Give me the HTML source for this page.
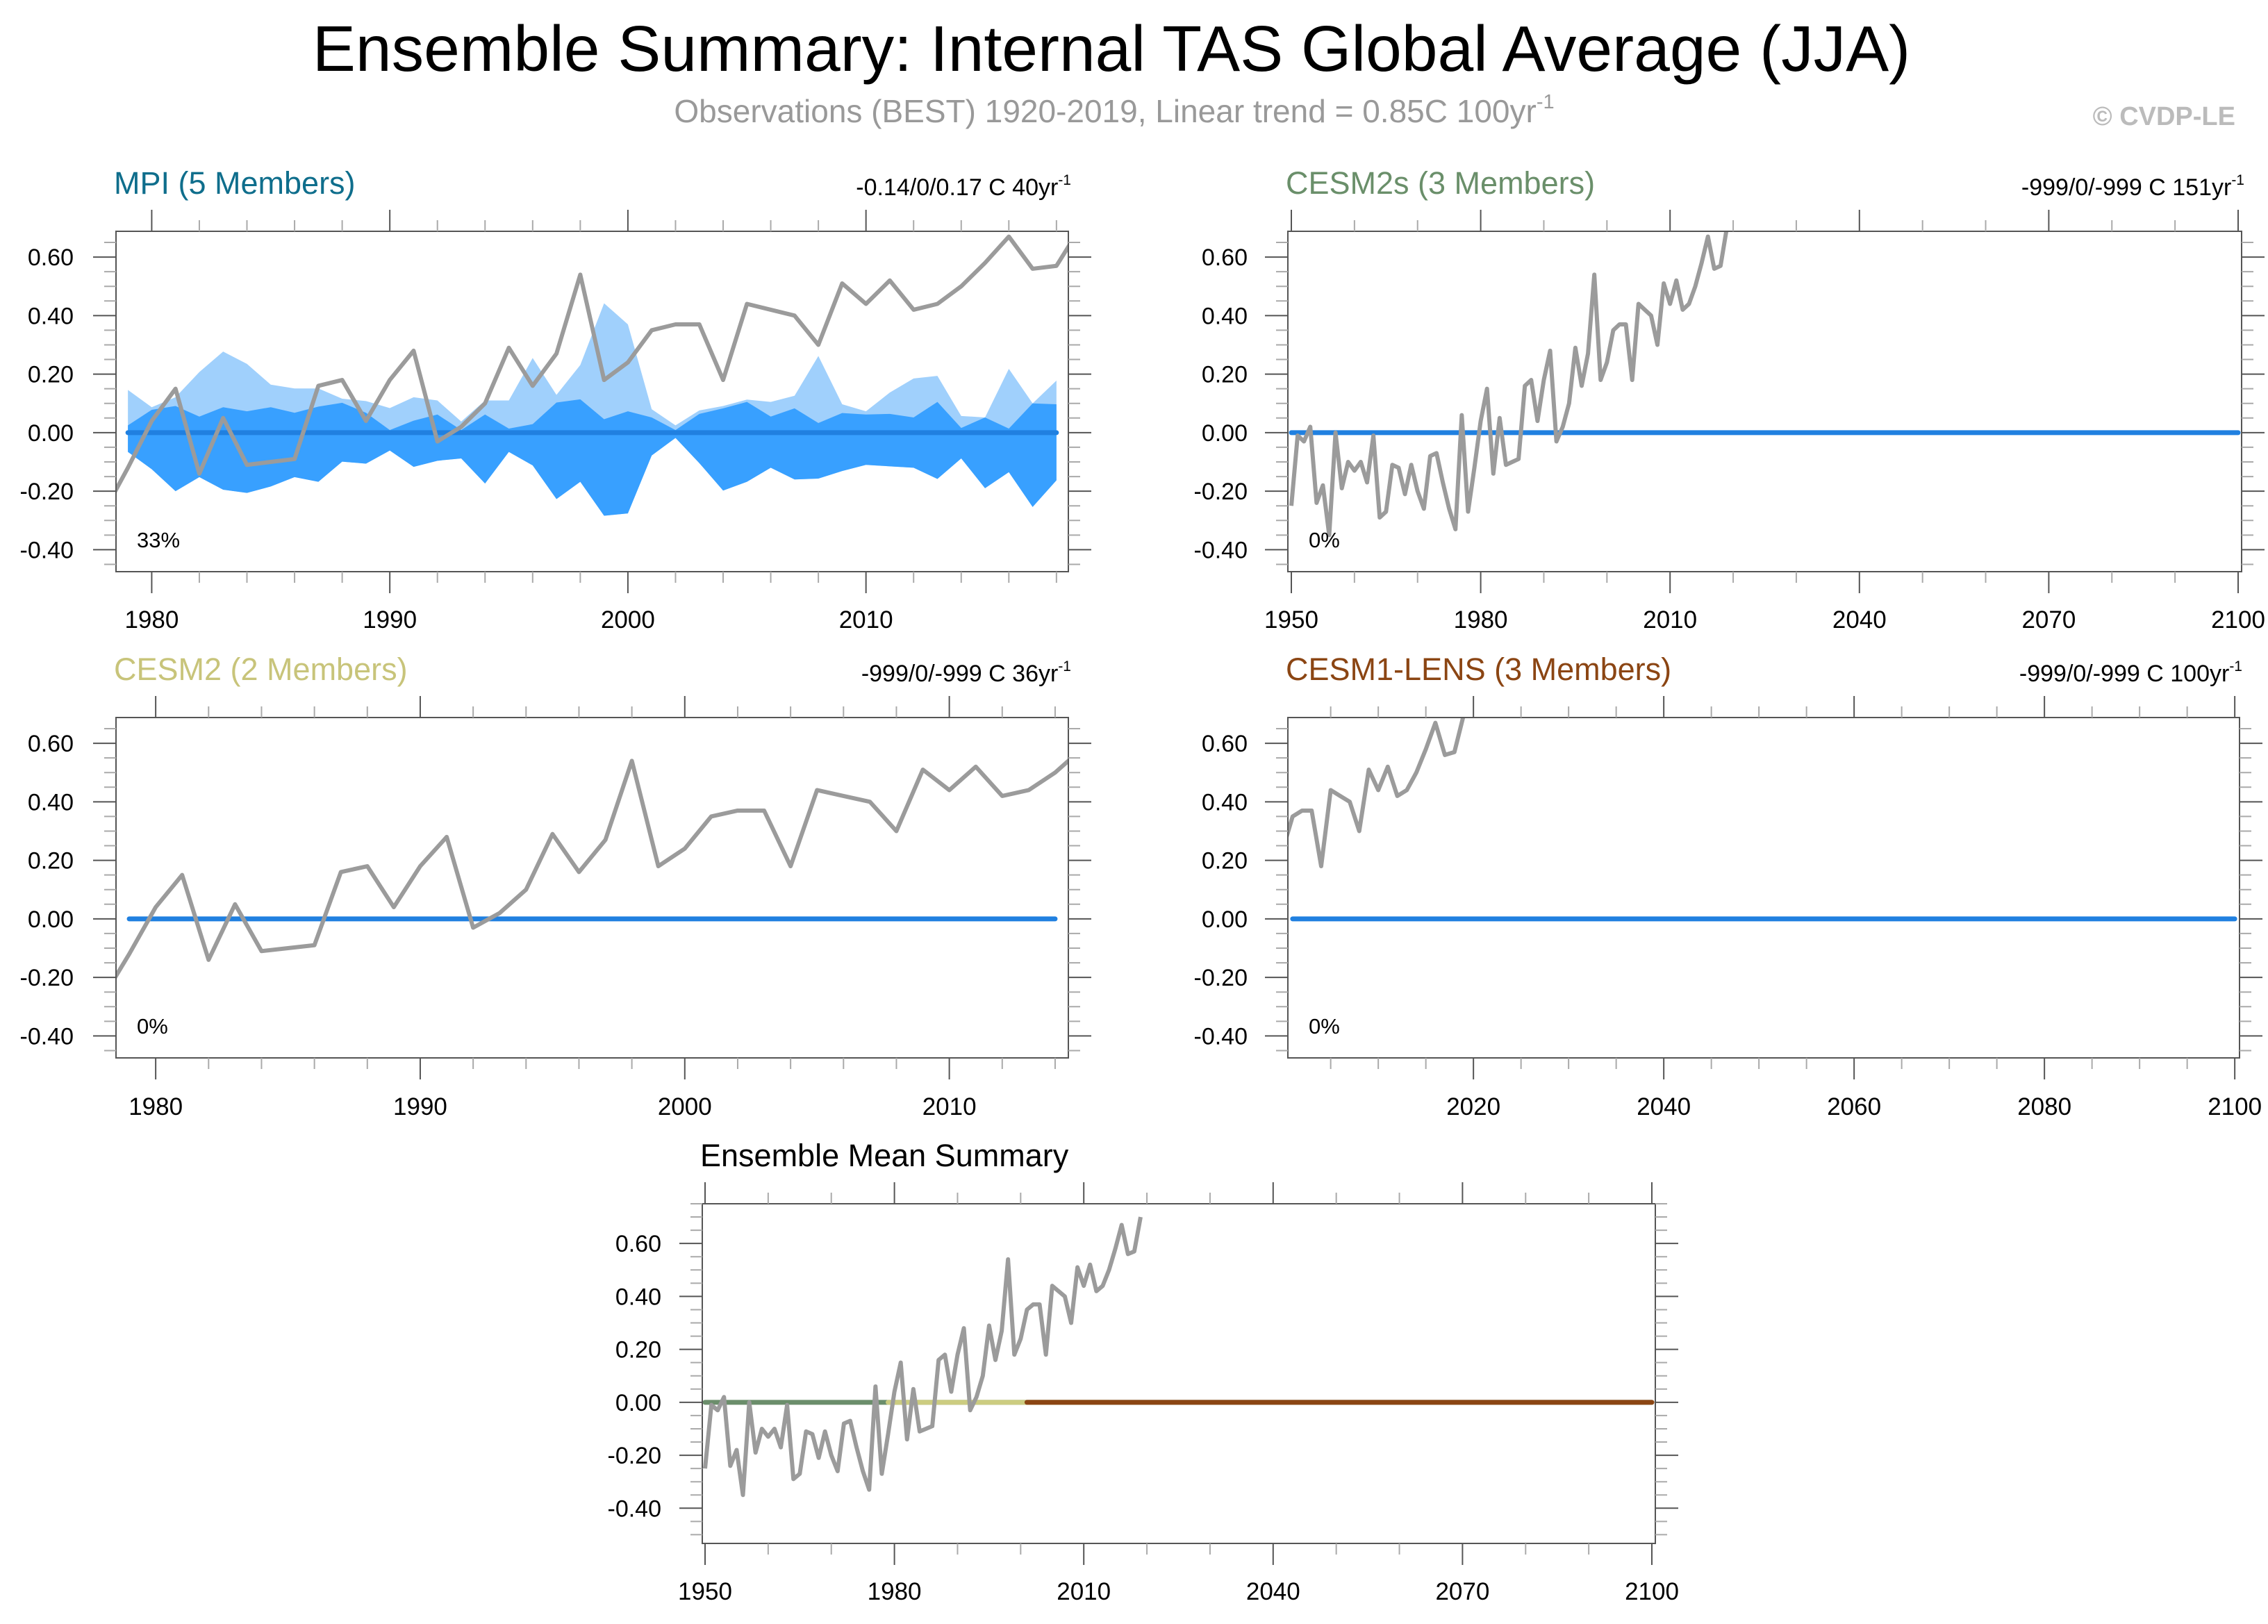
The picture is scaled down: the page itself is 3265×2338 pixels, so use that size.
<!DOCTYPE html>
<html><head><meta charset="utf-8"><title>Ensemble Summary</title>
<style>
html,body{margin:0;padding:0;background:#fff;}
svg{display:block;font-family:"Liberation Sans",Arial,sans-serif;}
</style></head>
<body>
<svg id="fig" xmlns="http://www.w3.org/2000/svg" width="3265" height="2338" viewBox="0 0 3265 2338">
<rect width="3265" height="2338" fill="#fff"/>
<text x="1600" y="102" font-size="93" text-anchor="middle" fill="#000">Ensemble Summary: Internal TAS Global Average (JJA)</text>
<text x="1604" y="176" font-size="46" text-anchor="middle" fill="#999">Observations (BEST) 1920-2019, Linear trend = 0.85C 100yr<tspan font-size="29" dy="-20">-1</tspan></text>
<text x="3218" y="180" font-size="38" font-weight="bold" text-anchor="end" fill="#bbb">© CVDP-LE</text>
<g id="plots"></g>
</svg>
<script>
// Observations (BEST JJA anomaly) 1950-2019
const obsYears = [1950,1951,1952,1953,1954,1955,1956,1957,1958,1959,1960,1961,1962,1963,1964,1965,1966,1967,1968,1969,1970,1971,1972,1973,1974,1975,1976,1977,1978,1979,1980,1981,1982,1983,1984,1985,1986,1987,1988,1989,1990,1991,1992,1993,1994,1995,1996,1997,1998,1999,2000,2001,2002,2003,2004,2005,2006,2007,2008,2009,2010,2011,2012,2013,2014,2015,2016,2017,2018,2019];
const obsValues = [-0.25,-0.01,-0.03,0.02,-0.24,-0.18,-0.35,0.00,-0.19,-0.10,-0.13,-0.10,-0.17,-0.01,-0.29,-0.27,-0.11,-0.12,-0.21,-0.11,-0.20,-0.26,-0.08,-0.07,-0.17,-0.26,-0.33,0.06,-0.27,-0.12,0.04,0.15,-0.14,0.05,-0.11,-0.10,-0.09,0.16,0.18,0.04,0.18,0.28,-0.03,0.02,0.10,0.29,0.16,0.27,0.54,0.18,0.24,0.35,0.37,0.37,0.18,0.44,0.42,0.40,0.30,0.51,0.44,0.52,0.42,0.44,0.50,0.58,0.67,0.56,0.57,0.70];
// MPI envelope 1979-2018
const mpiYears = [1979,1980,1981,1982,1983,1984,1985,1986,1987,1988,1989,1990,1991,1992,1993,1994,1995,1996,1997,1998,1999,2000,2001,2002,2003,2004,2005,2006,2007,2008,2009,2010,2011,2012,2013,2014,2015,2016,2017,2018];
const mpiMax = [0.146,0.087,0.121,0.207,0.277,0.235,0.164,0.151,0.151,0.116,0.108,0.084,0.121,0.110,0.038,0.110,0.110,0.255,0.129,0.231,0.442,0.370,0.080,0.025,0.076,0.091,0.113,0.105,0.126,0.262,0.097,0.073,0.137,0.185,0.194,0.057,0.052,0.218,0.100,0.178];
const mpiUpper = [0.025,0.078,0.091,0.055,0.087,0.073,0.087,0.068,0.089,0.102,0.068,0.009,0.041,0.062,0.009,0.062,0.014,0.029,0.103,0.114,0.046,0.073,0.052,0.009,0.064,0.083,0.105,0.055,0.083,0.033,0.067,0.062,0.064,0.052,0.105,0.016,0.052,0.014,0.100,0.097];
const mpiMin = [-0.066,-0.125,-0.200,-0.152,-0.195,-0.206,-0.184,-0.152,-0.168,-0.099,-0.106,-0.061,-0.117,-0.096,-0.088,-0.174,-0.066,-0.112,-0.227,-0.168,-0.284,-0.276,-0.078,-0.018,-0.104,-0.198,-0.168,-0.120,-0.160,-0.157,-0.131,-0.110,-0.115,-0.120,-0.158,-0.088,-0.190,-0.135,-0.254,-0.163];
const yTickValues = [-0.4,-0.2,0,0.2,0.4,0.6];
const yTickLabels = ["-0.40","-0.20","0.00","0.20","0.40","0.60"];
const ensMeanValue = [0,0];

const NS="http://www.w3.org/2000/svg";
const root=document.getElementById('plots');
function mk(tag,attrs,parent){const e=document.createElementNS(NS,tag);for(const k in attrs)e.setAttribute(k,attrs[k]);(parent||root).appendChild(e);return e;}

const panels=[
 {id:'mpi',title:'MPI (5 Members)',tcol:'#0f6e8c',trend:'-0.14/0/0.17 C 40yr',pct:'33%',x0:167,x1:1538,y0:333,y1:823,xmin:1978.5,xmax:2018.5,ymin:-0.475,ymax:0.688,maj:[1980,2010,10],minStep:2,mean:[[1979,2018,'#2080e0']],band:true,lbR:106,lbl:904},
 {id:'cesm2s',title:'CESM2s (3 Members)',tcol:'#6a8f6a',trend:'-999/0/-999 C 151yr',pct:'0%',x0:1854,x1:3227,y0:333,y1:823,xmin:1949.45,xmax:2100.55,ymin:-0.475,ymax:0.688,maj:[1950,2100,30],minStep:10,mean:[[1950,2100,'#2080e0']],lbR:1796,lbl:904},
 {id:'cesm2',title:'CESM2 (2 Members)',tcol:'#c8c47a',trend:'-999/0/-999 C 36yr',pct:'0%',x0:167,x1:1538,y0:1033,y1:1523,xmin:1978.5,xmax:2014.5,ymin:-0.475,ymax:0.688,maj:[1980,2010,10],minStep:2,mean:[[1979,2014,'#2080e0']],lbR:106,lbl:1605},
 {id:'cesm1-lens',title:'CESM1-LENS (3 Members)',tcol:'#8b4513',trend:'-999/0/-999 C 100yr',pct:'0%',x0:1854,x1:3224,y0:1033,y1:1523,xmin:2000.5,xmax:2100.5,ymin:-0.475,ymax:0.688,maj:[2020,2100,20],minStep:5,mean:[[2001,2100,'#2080e0']],lbR:1796,lbl:1605},
 {id:'ensemble-mean',title:'Ensemble Mean Summary',tcol:'#000',trend:null,pct:null,x0:1011,x1:2383,y0:1733,y1:2222,xmin:1949.56,xmax:2100.55,ymin:-0.533,ymax:0.75,maj:[1950,2100,30],minStep:10,mean:[[1950,2100,'#6b8e6b'],[1979,2014,'#cccc80'],[2001,2100,'#8b4513']],lbR:952,lbl:2303}
];

panels.forEach(p=>{
 const g=mk('g',{});
 
 
 const sx=v=>p.x0+(v-p.xmin)/(p.xmax-p.xmin)*(p.x1-p.x0);
 const sy=v=>p.y1-(v-p.ymin)/(p.ymax-p.ymin)*(p.y1-p.y0);
 const cp=mk('clipPath',{id:'clip-'+p.id},g);
 mk('rect',{x:p.x0,y:p.y0,width:p.x1-p.x0,height:p.y1-p.y0},cp);
 const t=mk('text',{x:p.x0-3,y:p.y0-54,'font-size':45,fill:p.tcol},g);
 t.textContent=p.title;
 
 
 if(p.trend){
  const r=mk('text',{x:p.x1+4,y:p.y0-52,'font-size':34,'text-anchor':'end',fill:'#000'},g);
  
  
  r.appendChild(document.createTextNode(p.trend));
  const s=mk('tspan',{'font-size':21,dy:-15},r);s.textContent='-1';
 }
 const data=mk('g',{'clip-path':'url(#clip-'+p.id+')'},g);
 if(p.band){
  let up=mpiYears.map((y,i)=>sx(y)+','+sy(mpiMax[i])).join(' ');
  let lo=mpiYears.slice().reverse().map((y,i)=>sx(y)+','+sy(mpiMin[mpiYears.length-1-i])).join(' ');
  const b1=mk('polygon',{points:up+' '+lo,fill:'#a0d0fc'},data);
  
  
  let up2=mpiYears.map((y,i)=>sx(y)+','+sy(mpiUpper[i])).join(' ');
  const b2=mk('polygon',{points:up2+' '+lo,fill:'#38a0ff'},data);
  
  
 }
 p.mean.forEach((m,i)=>{
  const l=mk('line',{x1:sx(m[0]),x2:sx(m[1]),y1:sy(ensMeanValue[0]),y2:sy(ensMeanValue[1]),stroke:m[2],'stroke-width':7,'stroke-linecap':'round'},data);
  
  
 });
 const ob=mk('polyline',{points:obsYears.map((y,i)=>sx(y)+','+sy(obsValues[i])).join(' '),fill:'none',stroke:'#9b9b9b','stroke-width':6,'stroke-linejoin':'round'},data);
 
 
 const fr=mk('rect',{x:p.x0,y:p.y0,width:p.x1-p.x0,height:p.y1-p.y0,fill:'none',stroke:'#555','stroke-width':2},g);
 
 
 for(let v=-0.6;v<=0.8001;v+=0.05){
  const vv=Math.round(v*100)/100; if(vv<p.ymin||vv>p.ymax)continue;
  const isMaj=Math.abs(Math.round(vv*10)-vv*10)<1e-6 && Math.round(vv*10)%2===0;
  const L=isMaj?33:17, y=sy(vv);
  mk('line',{x1:p.x0-L,x2:p.x0,y1:y,y2:y,stroke:isMaj?'#555':'#aaa','stroke-width':2},g);
  mk('line',{x1:p.x1,x2:p.x1+L,y1:y,y2:y,stroke:isMaj?'#555':'#aaa','stroke-width':2},g);
 }
 yTickValues.forEach((v,i)=>{
  if(v<p.ymin||v>p.ymax)return;
  const tl=mk('text',{x:p.lbR,y:sy(v)+12,'font-size':34,'text-anchor':'end',fill:'#000'},g);
  tl.textContent=yTickLabels[i];
  
  
 });
 for(let yr=Math.ceil(p.xmin);yr<=p.xmax;yr++){
  if(yr%p.minStep!==0)continue;
  const isMaj=(yr-p.maj[0])%p.maj[2]===0 && yr>=p.maj[0];
  const L=isMaj?31:16,x=sx(yr);
  mk('line',{x1:x,x2:x,y1:p.y0-L,y2:p.y0,stroke:isMaj?'#555':'#aaa','stroke-width':2},g);
  mk('line',{x1:x,x2:x,y1:p.y1,y2:p.y1+L,stroke:isMaj?'#555':'#aaa','stroke-width':2},g);
  if(isMaj){
   const xl=mk('text',{x:x,y:p.lbl,'font-size':35,'text-anchor':'middle',fill:'#000'},g);
   xl.textContent=String(yr);
   
   
  }
 }
 if(p.pct){
  const pc=mk('text',{x:p.x0+30,y:p.y1-35,'font-size':31,fill:'#000'},g);
  pc.textContent=p.pct;
  
  
 }
});
</script>
</body></html>
